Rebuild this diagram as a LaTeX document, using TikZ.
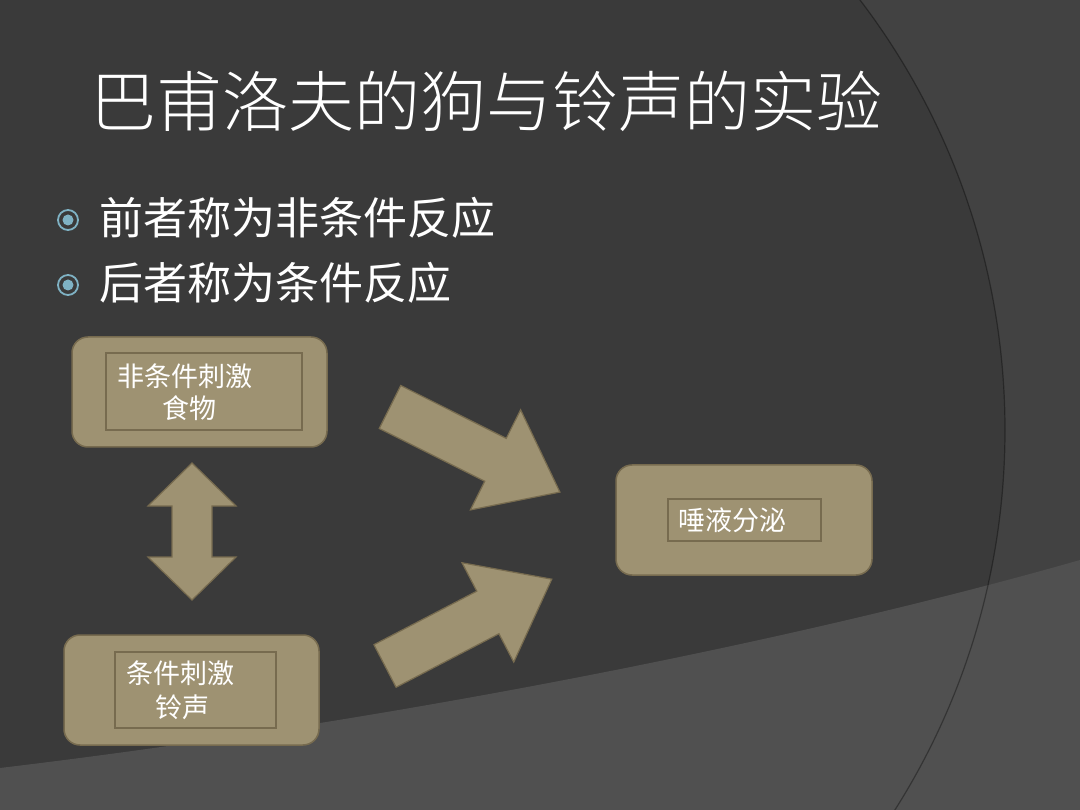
\documentclass[tikz,border=0pt]{standalone}
\usepackage{fontspec}
\newfontfamily\cjk{Noto Sans CJK SC}
\newfontfamily\cjklight{Noto Sans CJK SC Light}
\definecolor{bgA}{HTML}{3A3A3A}
\definecolor{bgB}{HTML}{424242}
\definecolor{bgC}{HTML}{505050}
\definecolor{tan}{HTML}{9E9272}
\definecolor{tanline}{HTML}{776B4F}
\definecolor{bul}{HTML}{7FB2C4}
\tikzset{
  outerbox/.style={draw=tanline,line width=1.5pt,fill=tan,rounded corners=16pt},
  innerbox/.style={draw=tanline,line width=1.2pt},
  lbl/.style={text=white,font=\cjk\fontsize{27}{32}\selectfont,inner sep=0},
  blockarrow/.style={fill=tan,draw=tanline,line width=1.2pt},
}
\begin{document}
\begin{tikzpicture}[x=1pt,y=-1pt]
\useasboundingbox (0,0) rectangle (1080,810);
\fill[bgB] (0,0) rectangle (1080,810);
\fill[bgA] (295,430) circle (710);
\fill[bgC] (0,768) .. controls (400,720) and (800,640) .. (1080,560) -- (1080,810) -- (0,810) -- cycle;
\draw[black,opacity=0.35,line width=1.2pt] (295,430) circle (710);
% title
\node[anchor=west,text=white,font=\cjklight\fontsize{66}{72}\selectfont,inner sep=0] (title) at (90,101) {巴甫洛夫的狗与铃声的实验};
% bullets
\foreach \yy in {220,285}{
  \draw[bul,line width=1.8pt] (68,\yy) circle (10);
  \fill[bul] (68,\yy) circle (5.5);
}
\node[anchor=west,text=white,font=\cjk\fontsize{44}{50}\selectfont,inner sep=0] (t1) at (99,218) {前者称为非条件反应};
\node[anchor=west,text=white,font=\cjk\fontsize{44}{50}\selectfont,inner sep=0] (t2) at (99,283) {后者称为条件反应};
% boxes
\draw[outerbox] (72,337) rectangle (327,447);
\draw[innerbox] (106,353) rectangle (302,430);
\node[lbl] (a1) at (185,376) {非条件刺激};
\node[lbl] (a2) at (189,408) {食物};
\draw[outerbox] (64,635) rectangle (319,745);
\draw[innerbox] (115,652) rectangle (276,728);
\node[lbl] (c1) at (180,673) {条件刺激};
\node[lbl] (c2) at (182,707) {铃声};
\draw[outerbox] (616,465) rectangle (872,575);
\draw[innerbox] (668,499) rectangle (821,541);
\node[lbl] (r1) at (732,520) {唾液分泌};
% block arrows
\begin{scope}[shift={(390,407)},rotate=-26.6]
\draw[blockarrow] (0,-24) -- (118,-24) -- (118,-56) -- (190,0) -- (118,56) -- (118,24) -- (0,24) -- cycle;
\end{scope}
\begin{scope}[shift={(385,666)},rotate=27.5]
\draw[blockarrow] (0,-24) -- (116,-24) -- (116,-56) -- (188,0) -- (116,56) -- (116,24) -- (0,24) -- cycle;
\end{scope}
\draw[blockarrow] (192,463) -- (236,506) -- (212,506) -- (212,557) -- (236,557) -- (192,600) -- (148,557) -- (172,557) -- (172,506) -- (148,506) -- cycle;
\end{tikzpicture}
\end{document}
